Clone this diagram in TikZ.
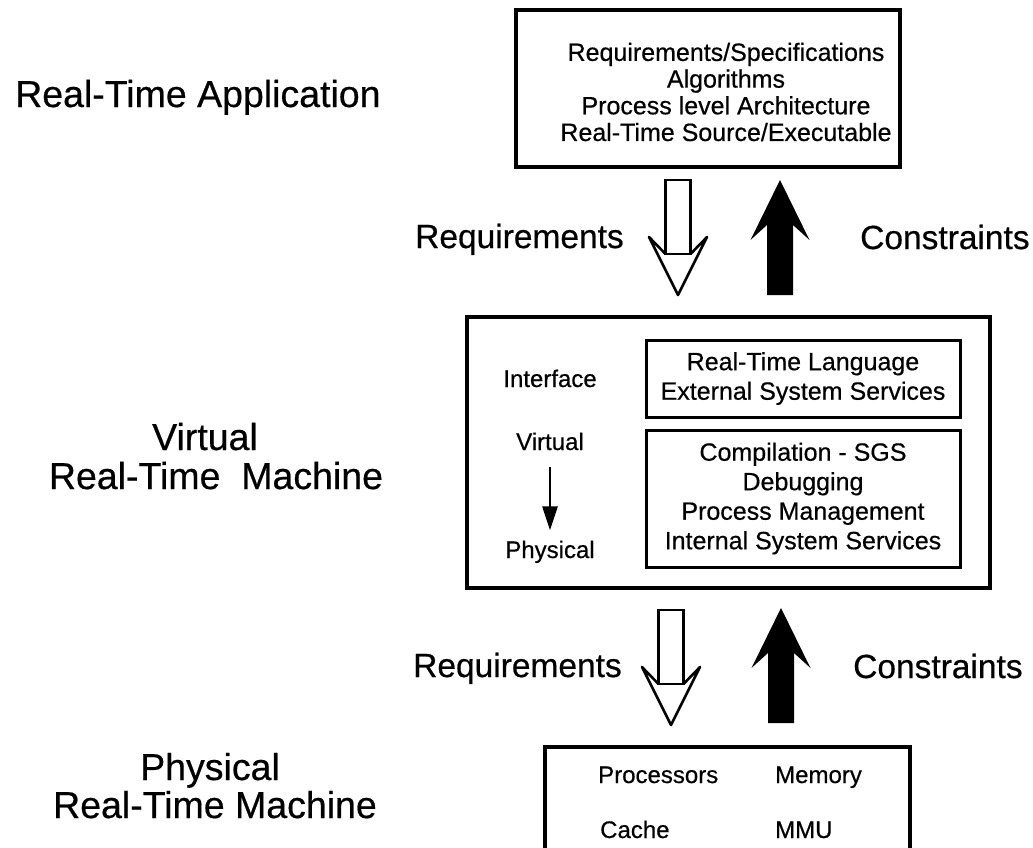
\documentclass[tikz,border=0pt]{standalone}
\usepackage{fontspec}
\setmainfont{Liberation Sans}
\newfontfamily\inkfont{Liberation Sans}[FakeBold=0.5]
\usetikzlibrary{arrows.meta}
\begin{document}
\begin{tikzpicture}[x=1pt,y=-1pt,
  heading/.style={font=\inkfont\fontsize{37.5}{40}\selectfont, inner sep=0pt},
  flowlabel/.style={font=\inkfont\fontsize{33.5}{36}\selectfont, inner sep=0pt},
  body/.style={font=\inkfont\fontsize{25}{26.7}\selectfont, align=center, inner sep=0pt},
  inbody/.style={font=\inkfont\fontsize{25}{29.5}\selectfont, align=center, inner sep=0pt},
  sidelabel/.style={font=\inkfont\fontsize{24}{28}\selectfont, inner sep=0pt},
  thickbox/.style={draw, line width=4.5pt},
  thinbox/.style={draw, line width=3pt},
  pics/hollowarrow/.style={code={
    \draw[line width=2.6pt] (-12.5,0) rectangle (12.5,74);
    \draw[line width=2.6pt, line join=round] (-12.5,74) -- (-29,57) -- (0,115) -- (29,57) -- (12.5,74);
  }},
  pics/solidarrow/.style={code={
    \fill (0,0) -- (29.5,60) -- (13,45) -- (13,115) -- (-13,115) -- (-13,45) -- (-29.5,60) -- cycle;
  }},
]
\useasboundingbox (0,0) rectangle (1033,847);

% level names on the left
\node[heading, anchor=base west] (apptitle) at (15,107) {Real-Time Application};
\node[heading, anchor=base] (vrtm1) at (205,450) {Virtual};
\node[heading, anchor=base] (vrtm2) at (216,489) {Real-Time\ \ Machine};
\node[heading, anchor=base] (prtm1) at (210,780) {Physical};
\node[heading, anchor=base] (prtm2) at (215,818) {Real-Time Machine};

% application box
\node[thickbox, minimum width=384, minimum height=157] (app) at (708,88.5) {};
\node[body] (appitems) at (726,92)
  {Requirements/Specifications\\Algorithms\\Process level Architecture\\Real-Time Source/Executable};

% upper interface arrows
\node[flowlabel, anchor=base west] (req1) at (415,248) {Requirements};
\node[flowlabel, anchor=base west] (con1) at (860,249) {Constraints};
\pic at (678,180) {hollowarrow};
\pic at (780,180) {solidarrow};

% virtual machine box
\node[thickbox, minimum width=523, minimum height=271] (vm) at (728.5,452.5) {};
\node[thinbox, inbody, minimum width=314, minimum height=77] (lang) at (803,378.5)
  {Real-Time Language\\External System Services};
\node[thinbox, inbody, minimum width=314, minimum height=137] (svc) at (803,498.5)
  {Compilation - SGS\\Debugging\\Process Management\\Internal System Services};
\node[sidelabel, anchor=base] (iface) at (550,387) {Interface};
\node[sidelabel, anchor=base] (virt) at (550,450) {Virtual};
\node[sidelabel, anchor=base] (phys) at (550,558) {Physical};
\draw[line width=2.5pt, -{Triangle[length=24pt,width=15pt]}, shorten <=17pt, shorten >=10pt]
  (virt.south) -- (phys.north);

% lower interface arrows
\node[flowlabel, anchor=base west] (req2) at (413,677) {Requirements};
\node[flowlabel, anchor=base west] (con2) at (853,678) {Constraints};
\pic at (671,610) {hollowarrow};
\pic at (781,608) {solidarrow};

% hardware box, running past the lower edge
\node[thickbox, minimum width=365, minimum height=160] (hw) at (727.5,827) {};
\node[sidelabel, anchor=base west] (cpu) at (598,783) {Processors};
\node[sidelabel, anchor=base west] (mem) at (775,783) {Memory};
\node[sidelabel, anchor=base west] (cache) at (600,838) {Cache};
\node[sidelabel, anchor=base west] (mmu) at (775,838) {MMU};
\end{tikzpicture}
\end{document}
